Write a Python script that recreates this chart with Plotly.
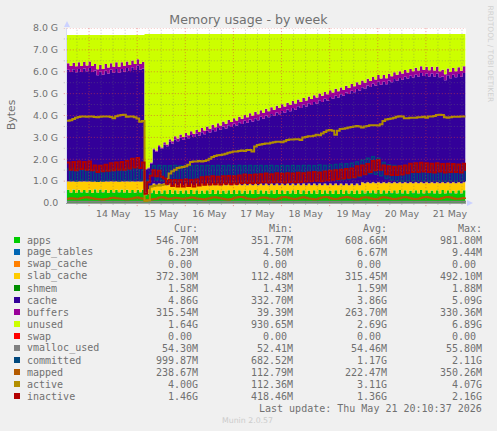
import pandas as pd
import plotly.graph_objects as go

# samples every 80 minutes, values in GB
times = pd.date_range("2026-05-13 13:00", periods=150, freq="80min")

apps = [
    .60,.47,.61,.46,.60,.48,.59,.47,.60,.46, .62,.47,.61,.48,.60,.46,.59,.47,.60,.48,
    .61,.47,.60,.46,.59,.47,.60,.48,.61,.36, .42,.45,.58,.42,.57,.43,.58,.41,.59,.42,
    .58,.42,.57,.43,.58,.42,.59,.41,.58,.42, .57,.43,.58,.42,.59,.42,.58,.41,.57,.43,
    .58,.42,.59,.42,.58,.43,.57,.42,.58,.41, .59,.42,.58,.43,.57,.42,.58,.42,.59,.41,
    .58,.42,.57,.43,.58,.42,.59,.42,.58,.41, .57,.43,.58,.42,.59,.42,.58,.43,.57,.42,
    .58,.41,.59,.42,.58,.43,.57,.42,.58,.42, .58,.44,.57,.45,.58,.44,.59,.43,.58,.44,
    .57,.45,.58,.44,.59,.44,.58,.43,.57,.45, .58,.44,.59,.44,.58,.45,.57,.44,.58,.43,
    .59,.44,.58,.45,.57,.44,.58,.44,.58,.44,
]
page_tables = [
    .007,.007,.007,.007,.007,.007,.007,.007,.007,.007, .007,.007,.007,.007,.007,.007,.007,.007,.007,.007,
    .007,.007,.007,.007,.007,.007,.007,.007,.007,.005, .005,.005,.006,.006,.006,.006,.006,.006,.006,.006,
    .006,.006,.006,.006,.006,.006,.006,.006,.006,.006, .006,.006,.006,.006,.006,.006,.006,.006,.006,.006,
    .006,.006,.006,.006,.006,.006,.006,.006,.006,.006, .006,.006,.006,.006,.006,.006,.006,.006,.006,.006,
    .006,.006,.006,.006,.006,.006,.006,.006,.006,.006, .006,.006,.006,.006,.006,.006,.006,.006,.006,.006,
    .006,.006,.006,.006,.006,.006,.006,.006,.006,.006, .006,.006,.006,.006,.006,.006,.006,.006,.006,.006,
    .006,.006,.006,.006,.006,.006,.006,.006,.006,.006, .006,.006,.006,.006,.006,.006,.006,.006,.006,.006,
    .006,.006,.006,.006,.006,.006,.006,.006,.006,.006,
]
swap_cache = [0.0] * len(times)
slab_cache = [
    .38,.50,.37,.51,.38,.49,.39,.50,.38,.51, .36,.50,.37,.49,.38,.51,.39,.50,.38,.49,
    .37,.50,.38,.51,.39,.50,.38,.49,.37,.12, .20,.26,.30,.38,.31,.37,.30,.39,.29,.38,
    .30,.38,.31,.37,.30,.38,.29,.39,.30,.38, .31,.37,.30,.38,.29,.38,.30,.39,.31,.37,
    .30,.38,.29,.38,.30,.37,.31,.38,.30,.39, .29,.38,.30,.37,.31,.38,.30,.38,.29,.39,
    .30,.38,.31,.37,.30,.38,.29,.38,.30,.39, .31,.37,.30,.38,.29,.38,.30,.37,.31,.38,
    .30,.39,.29,.38,.30,.37,.31,.38,.30,.38, .36,.46,.37,.45,.36,.46,.35,.47,.36,.46,
    .37,.45,.36,.46,.35,.46,.36,.47,.37,.45, .36,.46,.35,.46,.36,.45,.37,.46,.36,.47,
    .35,.46,.36,.45,.37,.46,.36,.46,.36,.46,
]
shmem = [
    .002,.002,.002,.002,.002,.002,.002,.002,.002,.002, .002,.002,.002,.002,.002,.002,.002,.002,.002,.002,
    .002,.002,.002,.002,.002,.002,.002,.002,.002,.001, .001,.001,.001,.001,.001,.002,.002,.002,.002,.002,
    .002,.002,.002,.002,.002,.002,.002,.002,.002,.002, .002,.002,.002,.002,.002,.002,.002,.002,.002,.002,
    .002,.002,.002,.002,.002,.002,.002,.002,.002,.002, .002,.002,.002,.002,.002,.002,.002,.002,.002,.002,
    .002,.002,.002,.002,.002,.002,.002,.002,.002,.002, .002,.002,.002,.002,.002,.002,.002,.002,.002,.002,
    .002,.002,.002,.002,.002,.002,.002,.002,.002,.002, .002,.002,.002,.002,.002,.002,.002,.002,.002,.002,
    .002,.002,.002,.002,.002,.002,.002,.002,.002,.002, .002,.002,.002,.002,.002,.002,.002,.002,.002,.002,
    .002,.002,.002,.002,.002,.002,.002,.002,.002,.002,
]
cache = [
    5.10,5.01,5.12,5.00,5.14,5.01,5.16,5.04,5.18,5.01,
    5.07,4.86,5.02,4.88,5.06,4.94,5.10,4.98,5.14,4.98,
    5.14,5.02,5.18,5.06,5.22,5.10,5.28,5.12,5.16,1.03,
    .95,1.09,1.55,1.54,1.67,1.67,1.79,1.79,1.91,1.91,
    2.02,2.02,2.09,2.08,2.15,2.15,2.22,2.21,2.28,2.28,
    2.35,2.34,2.41,2.41,2.48,2.47,2.54,2.54,2.61,2.60,
    2.67,2.67,2.74,2.73,2.80,2.80,2.87,2.86,2.93,2.92,
    2.99,2.98,3.05,3.04,3.11,3.11,3.18,3.18,3.25,3.25,
    3.32,3.32,3.39,3.39,3.46,3.46,3.53,3.53,3.60,3.60,
    3.67,3.67,3.73,3.73,3.81,3.81,3.88,3.88,3.96,3.96,
    4.02,4.02,4.08,4.09,4.16,4.17,4.24,4.25,4.32,4.33,
    4.34,4.31,4.42,4.39,4.50,4.46,4.59,4.50,4.59,4.52,
    4.65,4.61,4.72,4.68,4.77,4.73,4.82,4.78,4.87,4.83,
    4.92,4.87,4.99,4.90,4.97,4.88,4.97,4.87,4.97,4.84,
    4.83,4.70,4.89,4.80,4.91,4.84,4.95,4.86,4.99,4.90,
]
buffers = [
    .30,.27,.30,.27,.30,.27,.30,.27,.30,.27, .30,.27,.30,.27,.30,.27,.30,.27,.30,.27,
    .30,.27,.30,.27,.30,.27,.30,.27,.30,.04, .05,.05,.06,.05,.08,.06,.10,.08,.12,.10,
    .14,.12,.15,.13,.16,.14,.17,.15,.18,.16, .19,.17,.20,.18,.21,.19,.22,.20,.23,.21,
    .24,.22,.25,.23,.26,.24,.27,.25,.28,.26, .29,.27,.30,.28,.31,.28,.31,.28,.31,.28,
    .31,.28,.31,.28,.31,.28,.31,.28,.31,.28, .31,.28,.31,.28,.31,.28,.31,.28,.31,.28,
    .31,.28,.31,.28,.31,.28,.31,.28,.31,.28, .31,.28,.31,.28,.31,.28,.31,.28,.31,.28,
    .31,.28,.31,.28,.31,.28,.31,.28,.31,.28, .31,.28,.31,.28,.31,.28,.31,.28,.31,.28,
    .31,.28,.31,.28,.31,.28,.31,.28,.31,.28,
]
unused = [
    1.29,1.42,1.27,1.43,1.25,1.42,1.23,1.39,1.21,1.42,
    1.32,1.57,1.37,1.55,1.33,1.49,1.29,1.45,1.25,1.45,
    1.25,1.41,1.21,1.37,1.17,1.33,1.11,1.31,1.23,6.17,
    6.10,5.87,5.23,5.33,5.09,5.19,4.95,5.05,4.81,4.91,
    4.68,4.78,4.60,4.71,4.53,4.63,4.45,4.56,4.38,4.48,
    4.30,4.41,4.23,4.33,4.15,4.26,4.08,4.18,4.00,4.11,
    3.93,4.03,3.85,3.96,3.78,3.88,3.70,3.81,3.63,3.74,
    3.56,3.67,3.49,3.60,3.42,3.53,3.35,3.46,3.28,3.39,
    3.21,3.32,3.14,3.25,3.07,3.18,3.00,3.11,2.93,3.04,
    2.86,2.97,2.80,2.91,2.72,2.83,2.65,2.76,2.57,2.68,
    2.51,2.62,2.45,2.55,2.37,2.47,2.29,2.39,2.21,2.31,
    2.13,2.23,2.05,2.15,1.97,2.08,1.88,2.04,1.88,2.02,
    1.82,1.93,1.75,1.86,1.70,1.81,1.65,1.76,1.60,1.71,
    1.55,1.67,1.48,1.64,1.50,1.66,1.50,1.67,1.50,1.70,
    1.64,1.84,1.58,1.74,1.56,1.70,1.52,1.68,1.48,1.64,
]
swap = [0.0] * len(times)

vmalloc_times = ["2026-05-13 13:00", "2026-05-15 04:00", "2026-05-15 08:00", "2026-05-17 00:00",
                 "2026-05-19 00:00", "2026-05-21 20:00"]
vmalloc_used = [.055, .053, .054, .054, .055, .054]

committed = [
    1.55,1.05,1.58,1.02,1.55,1.05,1.52,1.04,1.55,1.02,
    1.45,1.00,1.42,1.02,1.48,1.04,1.52,1.05,1.55,1.02,
    1.55,1.05,1.58,1.04,1.60,1.06,1.62,1.05,1.50,0.70,
    1.05,1.35,1.70,1.05,1.72,1.02,1.70,1.00,1.70,1.00,
    1.72,1.00,1.70,0.98,1.72,1.00,1.70,1.00,1.72,0.98,
    1.70,1.00,1.72,1.00,1.70,0.98,1.72,1.00,1.70,1.00,
    1.72,1.00,1.70,0.98,1.72,1.00,1.70,1.00,1.72,1.00,
    1.70,0.98,1.72,1.00,1.70,1.00,1.72,1.00,1.70,0.98,
    1.72,1.00,1.70,1.00,1.72,1.00,1.70,1.02,1.72,1.00,
    1.72,1.02,1.70,1.02,1.74,1.04,1.72,1.04,1.74,1.05,
    1.76,1.05,1.78,1.08,1.80,1.10,1.82,1.15,1.88,1.20,
    1.95,1.30,2.05,1.35,2.11,1.32,2.05,1.25,1.85,1.12,
    1.75,1.05,1.72,1.02,1.70,1.00,1.72,1.02,1.75,1.02,
    1.72,1.02,1.75,1.02,1.72,1.00,1.72,1.02,1.70,1.00,
    1.72,1.00,1.70,1.02,1.72,1.00,1.70,1.02,1.70,1.00,
]
mapped = [
    .20,.22,.21,.19,.20,.23,.25,.26,.24,.22,
    .20,.18,.17,.16,.18,.20,.23,.24,.22,.21,
    .20,.18,.17,.19,.21,.24,.25,.22,.20,.12,
    .14,.16,.18,.20,.24,.26,.24,.21,.20,.22,
    .24,.23,.21,.20,.21,.23,.25,.24,.21,.20,
    .18,.16,.19,.22,.25,.26,.24,.22,.20,.17,
    .16,.18,.22,.25,.28,.27,.24,.21,.19,.17,
    .18,.21,.24,.25,.24,.21,.19,.16,.18,.22,
    .25,.27,.25,.22,.20,.18,.21,.24,.26,.24,
    .21,.19,.17,.18,.22,.25,.27,.26,.23,.20,
    .18,.20,.23,.25,.27,.25,.22,.19,.17,.20,
    .24,.26,.25,.22,.19,.18,.20,.24,.26,.25,
    .23,.20,.18,.19,.22,.25,.27,.25,.22,.19,
    .18,.20,.23,.26,.27,.25,.22,.19,.18,.20,
    .23,.26,.27,.25,.22,.20,.19,.21,.23,.24,
]
active = [
    3.76,3.78,3.84,3.90,3.93,3.95,3.95,3.94,3.95,3.96,
    3.93,3.92,3.94,3.95,3.96,3.96,3.93,3.87,3.97,4.00,
    4.02,4.03,3.94,3.95,3.95,3.92,3.86,3.72,3.75,0.10,
    0.12,0.75,0.78,0.80,0.80,0.82,0.85,1.10,1.35,1.45,
    1.52,1.60,1.62,1.65,1.68,1.75,1.88,1.90,1.90,1.92,
    1.90,1.92,1.95,2.02,2.10,2.15,2.18,2.20,2.22,2.25,
    2.30,2.32,2.35,2.36,2.38,2.40,2.38,2.42,2.42,2.36,
    2.58,2.65,2.68,2.70,2.72,2.72,2.75,2.78,2.80,2.80,
    2.78,2.82,2.88,2.90,2.90,2.92,2.92,2.88,3.00,3.02,
    3.05,3.05,3.08,3.12,3.10,3.18,3.25,3.32,3.34,3.30,
    3.12,3.30,3.38,3.40,3.42,3.45,3.48,3.50,3.52,3.50,
    3.45,3.50,3.52,3.55,3.56,3.55,3.54,3.60,3.75,3.82,
    3.84,3.86,3.90,3.94,3.97,3.95,3.88,3.88,3.90,3.90,
    3.90,3.92,3.92,3.94,3.90,3.95,3.95,3.98,4.02,4.04,
    4.02,3.92,3.90,3.92,3.94,3.94,3.94,3.95,3.95,3.95,
]
inactive = [
    1.85,1.52,1.88,1.50,1.90,1.55,1.88,1.52,1.90,1.50,
    1.72,1.42,1.70,1.45,1.75,1.48,1.82,1.50,1.85,1.52,
    1.88,1.52,1.92,1.58,2.02,1.62,2.06,1.60,1.85,0.42,
    0.95,1.25,1.50,1.22,1.48,1.20,1.12,0.88,1.05,0.78,
    1.05,0.76,1.05,0.75,1.08,0.78,1.05,0.76,1.08,0.80,
    1.18,0.84,1.20,0.85,1.22,0.86,1.20,0.85,1.22,0.88,
    1.24,0.86,1.22,0.88,1.26,0.90,1.30,0.92,1.28,0.90,
    1.30,0.92,1.32,0.95,1.35,0.94,1.32,0.95,1.36,0.96,
    1.34,0.94,1.36,0.96,1.35,0.95,1.38,0.96,1.36,0.98,
    1.40,1.00,1.42,1.02,1.40,1.00,1.44,1.04,1.48,1.06,
    1.50,1.10,1.52,1.12,1.55,1.15,1.58,1.18,1.68,1.26,
    1.72,1.32,1.78,1.42,1.92,1.50,1.96,1.52,1.72,1.32,
    1.68,1.28,1.66,1.28,1.68,1.30,1.72,1.36,1.80,1.42,
    1.82,1.42,1.84,1.44,1.82,1.42,1.80,1.40,1.82,1.44,
    1.78,1.40,1.80,1.42,1.78,1.42,1.76,1.40,1.80,1.46,
]

# legend table
names = ["apps", "page_tables", "swap_cache", "slab_cache", "shmem", "cache", "buffers", "unused",
         "swap", "vmalloc_used", "committed", "mapped", "active", "inactive"]
colors = ["#00CC00", "#0066B3", "#FF8000", "#FFCC00", "#008F00", "#330099", "#990099", "#CCFF00",
          "#FF0000", "#808080", "#00487D", "#B35A00", "#B38F00", "#B30000"]
cur = ["546.70M", "6.23M", "0.00 ", "372.30M", "1.58M", "4.86G", "315.54M", "1.64G",
       "0.00 ", "54.30M", "999.87M", "238.67M", "4.00G", "1.46G"]
mins = ["351.77M", "4.50M", "0.00 ", "112.48M", "1.43M", "332.70M", "39.39M", "930.65M",
        "0.00 ", "52.41M", "682.52M", "112.79M", "112.36M", "418.46M"]
avgs = ["608.66M", "6.67M", "0.00 ", "315.45M", "1.59M", "3.86G", "263.70M", "2.69G",
        "0.00 ", "54.46M", "1.17G", "222.47M", "3.11G", "1.36G"]
maxs = ["981.80M", "9.44M", "0.00 ", "492.10M", "1.88M", "5.09G", "330.36M", "6.89G",
        "0.00 ", "55.80M", "2.11G", "350.26M", "4.07G", "2.16G"]

y_ticks = [0, 1, 2, 3, 4, 5, 6, 7, 8]
y_labels = ["0.0", "1.0 G", "2.0 G", "3.0 G", "4.0 G", "5.0 G", "6.0 G", "7.0 G", "8.0 G"]
x_ticks = ["2026-05-14 12:00", "2026-05-15 12:00", "2026-05-16 12:00", "2026-05-17 12:00",
           "2026-05-18 12:00", "2026-05-19 12:00", "2026-05-20 12:00", "2026-05-21 12:00"]
x_labels = ["14 May", "15 May", "16 May", "17 May", "18 May", "19 May", "20 May", "21 May"]

# plot box in page pixels
W, H = 497, 431
L, R, T, B = 67, 466, 28, 203
TEXT = "#707070"
MONO = "DejaVu Sans Mono"


def px(x):
    return (x - L) / (R - L)


def py(y):
    return (B - y) / (B - T)


fig = go.Figure()

areas = [apps, page_tables, swap_cache, slab_cache, shmem, cache, buffers, unused, swap]
for i, values in enumerate(areas):
    fig.add_trace(go.Scatter(x=times, y=values, name=names[i], mode="lines", stackgroup="one",
                             fillcolor=colors[i], line=dict(width=0, shape="hv", color=colors[i])))

fig.add_trace(go.Scatter(x=vmalloc_times, y=vmalloc_used, name="vmalloc_used", mode="lines",
                         line=dict(color=colors[9], width=2, shape="hv")))
line_widths = {10: 1.5, 11: 2, 12: 2, 13: 2}
for i, values in zip([10, 11, 12, 13], [committed, mapped, active, inactive]):
    fig.add_trace(go.Scatter(x=times, y=values, name=names[i], mode="lines",
                             line=dict(color=colors[i], width=line_widths[i], shape="hv")))

# rrdtool puts the grid over the data, so it has to be shapes
shapes = []
for t in pd.date_range("2026-05-13 18:00", "2026-05-21 18:00", freq="6h"):
    major = t.hour == 0
    shapes.append(dict(type="line", xref="x", yref="paper", x0=t, x1=t, y0=-0.018 if major else -0.01, y1=1,
                       layer="above",
                       line=dict(color="rgba(220,60,60,0.55)" if major else "rgba(110,110,110,0.4)",
                                 width=1, dash="1px,2px")))
for v in [n / 2 for n in range(1, 17)]:
    major = v == int(v)
    shapes.append(dict(type="line", xref="paper", yref="y", x0=-0.008, x1=1, y0=v, y1=v, layer="above",
                       line=dict(color="rgba(220,60,60,0.55)" if major else "rgba(110,110,110,0.4)",
                                 width=1, dash="1px,2px")))

# axis arrows
shapes.append(dict(type="path", xref="paper", yref="paper", fillcolor="#CCD2FF", line=dict(width=0),
                   path=f"M {px(64)} {py(27)} L {px(70)} {py(27)} L {px(67)} {py(21)} Z"))
shapes.append(dict(type="path", xref="paper", yref="paper", fillcolor="#CCD2FF", line=dict(width=0),
                   path=f"M {px(467)} {py(200)} L {px(467)} {py(206)} L {px(473)} {py(203)} Z"))

# legend swatches
for i, c in enumerate(colors):
    y = 240 + 12 * i
    shapes.append(dict(type="rect", xref="paper", yref="paper", fillcolor=c, line=dict(width=0),
                       x0=px(14), x1=px(20), y0=py(y + 3), y1=py(y - 3)))

notes = []


def text(x, y, s, anchor="left", size=10, color=TEXT, family=MONO, angle=0):
    notes.append(dict(x=px(x), y=py(y), xref="paper", yref="paper", text=s, showarrow=False, textangle=angle,
                      xanchor=anchor, yanchor="middle", xshift=0, yshift=0,
                      borderpad=0, font=dict(family=family, size=size, color=color)))


text(199, 228, "Cur:", "right")
text(294, 228, "Min:", "right")
text(388, 228, "Avg:", "right")
text(483, 228, "Max:", "right")
for i, name in enumerate(names):
    y = 240 + 12 * i
    text(26, y, name)
    text(199, y, cur[i].replace(" ", "&nbsp;"), "right")
    text(294, y, mins[i].replace(" ", "&nbsp;"), "right")
    text(388, y, avgs[i].replace(" ", "&nbsp;"), "right")
    text(483, y, maxs[i].replace(" ", "&nbsp;"), "right")
text(483, 408, "Last update: Thu May 21 20:10:37 2026", "right")
text(247.5, 420, "Munin 2.0.57", "center", 7.8, "#CCCCCC", "DejaVu Sans")
text(11, 115, "Bytes", "center", 10.8, TEXT, "DejaVu Sans", -90)
text(490, 53.5, "RRDTOOL / TOBI OETIKER", "center", 7.5, "#D0D0D0", "DejaVu Sans", 90)

fig.update_layout(
    width=W, height=H, autosize=False,
    margin=dict(l=L, r=W - R, t=T, b=H - B, pad=0),
    paper_bgcolor="#F0F0F0", plot_bgcolor="#FFFFFF",
    showlegend=False,
    title=dict(text="Memory usage - by week", x=248.5 / W, xanchor="center", y=1 - 19.5 / H, yanchor="middle",
               font=dict(family="DejaVu Sans", size=12.6, color=TEXT)),
    xaxis=dict(range=["2026-05-13 13:00", "2026-05-21 20:00"], tickvals=x_ticks, ticktext=x_labels, showgrid=False,
               zeroline=False, ticks="outside", ticklen=2, tickcolor="rgba(0,0,0,0)",
               tickfont=dict(family="DejaVu Sans", size=9.4, color=TEXT),
               showline=True, linecolor="#A0A0A0", linewidth=1),
    yaxis=dict(range=[0, 8], tickvals=y_ticks, ticktext=y_labels, showgrid=False, zeroline=False,
               ticks="outside", ticklen=6, tickcolor="rgba(0,0,0,0)",
               tickfont=dict(family="DejaVu Sans", size=9.4, color=TEXT),
               showline=True, linecolor="#D8DCF4", linewidth=1),
    shapes=shapes,
    annotations=notes,
)

fig.write_html("out.html", config={"displayModeBar": False},
               post_script="document.body.style.margin='0';document.body.style.background='#F0F0F0';")
